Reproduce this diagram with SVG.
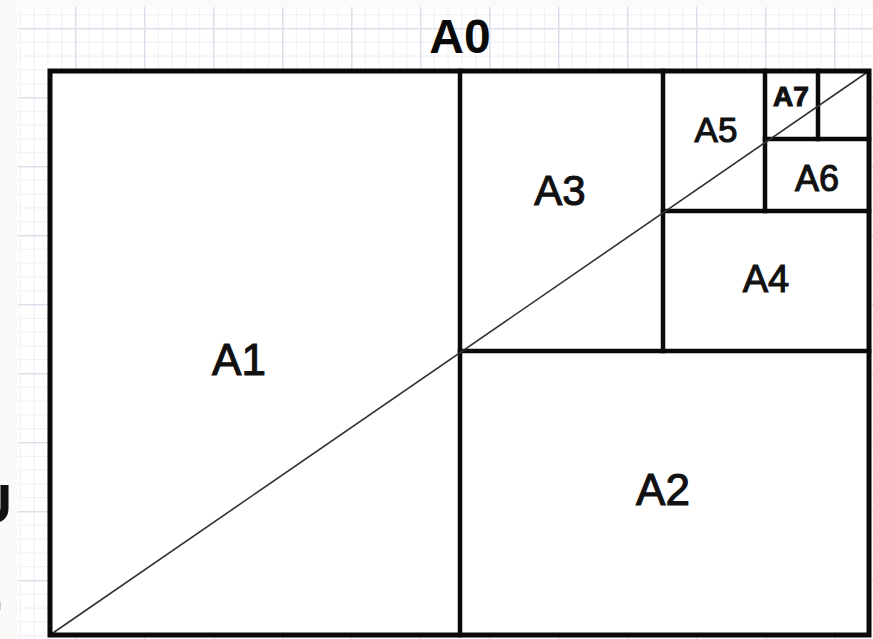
<svg xmlns="http://www.w3.org/2000/svg" width="873" height="639" viewBox="0 0 873 639">
  <style>
    .sheet { fill: #ffffff; stroke: none; }
    .frame { fill: none; stroke: #0a0a0a; stroke-width: 5; }
    .div { fill: none; stroke: #0a0a0a; stroke-width: 4.5; stroke-linecap: square; }
    .diag { fill: none; stroke: #333; stroke-width: 1.6; }
    .lbl { font-family: "Liberation Sans", Arial, sans-serif; fill: #111; stroke: #111; stroke-width: 1.1; text-anchor: middle; }
    .title { font-family: "Liberation Sans", Arial, sans-serif; font-weight: bold; fill: #0a0a0a; text-anchor: middle; }
    .frag { font-family: "Liberation Sans", Arial, sans-serif; font-weight: bold; fill: #111; }
  </style>
  <defs>
    <pattern id="minor" patternUnits="userSpaceOnUse" x="6" y="0.4" width="13.8" height="13.8">
      <rect x="0" y="0" width="1" height="13.8" fill="#eeeef6"/>
      <rect x="0" y="0" width="13.8" height="1" fill="#eeeef6"/>
    </pattern>
    <pattern id="major" patternUnits="userSpaceOnUse" x="6" y="28" width="69" height="69">
      <rect x="0" y="0" width="1.5" height="69" fill="#dedfea"/>
      <rect x="0" y="0" width="69" height="1.5" fill="#dedfea"/>
    </pattern>
  </defs>

  <!-- background -->
  <rect x="0" y="0" width="873" height="639" fill="#fbfaf8"/>
  <rect x="18" y="7" width="855" height="632" fill="#ffffff"/>
  <rect x="18" y="7" width="855" height="632" fill="url(#minor)"/>
  <rect x="18" y="7" width="855" height="632" fill="url(#major)"/>

  <!-- clipped fragments at left edge -->
  <text class="frag" x="12" y="523" font-size="56" text-anchor="end">U</text>
  <text class="frag" x="4" y="610" font-size="56" text-anchor="end">.</text>

  <!-- sheet A0 -->
  <g id="A0">
    <rect class="sheet" x="50" y="71" width="819" height="564"/>
    <text class="title" x="460" y="53" font-size="48">A0</text>
  </g>

  <g id="A1">
    <text class="lbl" x="239" y="375" font-size="44">A1</text>
  </g>
  <g id="A2">
    <line class="div" x1="460" y1="351" x2="869" y2="351"/>
    <text class="lbl" x="663" y="505" font-size="44">A2</text>
  </g>
  <g id="A3">
    <line class="div" x1="460" y1="71" x2="460" y2="635"/>
    <text class="lbl" x="560" y="205" font-size="42">A3</text>
  </g>
  <g id="A4">
    <line class="div" x1="663" y1="71" x2="663" y2="351"/>
    <line class="div" x1="663" y1="211" x2="869" y2="211"/>
    <text class="lbl" x="766" y="292" font-size="38">A4</text>
  </g>
  <g id="A5">
    <line class="div" x1="765" y1="71" x2="765" y2="211"/>
    <text class="lbl" x="716" y="142" font-size="35">A5</text>
  </g>
  <g id="A6">
    <line class="div" x1="765" y1="139" x2="869" y2="139"/>
    <text class="lbl" x="817" y="191" font-size="36">A6</text>
  </g>
  <g id="A7">
    <line class="div" x1="818" y1="71" x2="818" y2="139"/>
    <text class="lbl" x="791" y="106" font-size="28" font-weight="bold" stroke-width="0.3">A7</text>
  </g>

  <g id="connectors">
    <line class="diag" x1="50" y1="635" x2="869" y2="71"/>
  </g>
  <rect class="frame" x="50" y="71" width="819" height="564"/>
</svg>
